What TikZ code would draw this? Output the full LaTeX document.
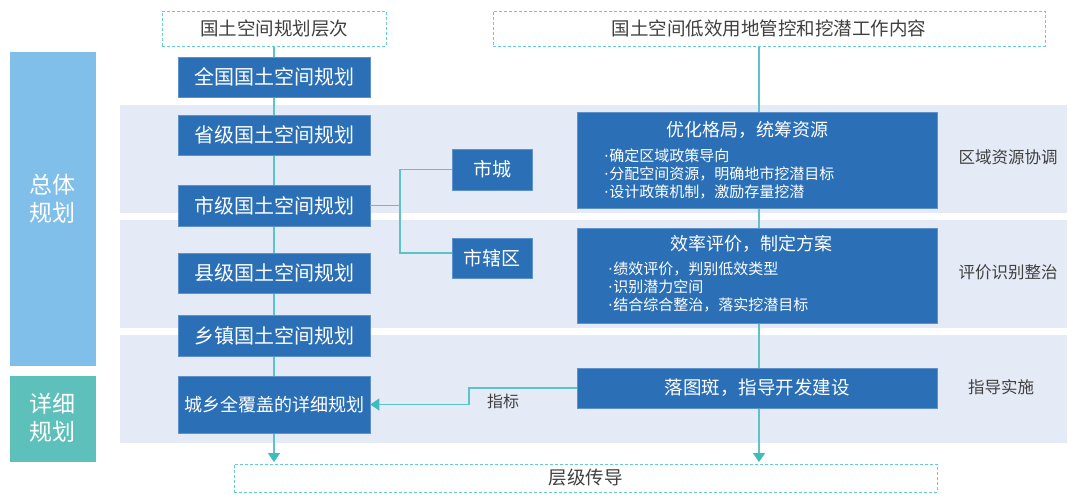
\documentclass[tikz,border=0pt]{standalone}
\usepackage{fontspec}
\setmainfont{Noto Sans CJK SC}
\newfontfamily\dotfont{DejaVu Sans}
\newcommand{\bdot}{{\dotfont ·}\hspace{0.5pt}}
\usetikzlibrary{arrows.meta}
\definecolor{boxblue}{RGB}{43,111,182}
\definecolor{boxedge}{RGB}{95,145,205}
\definecolor{sideblue}{RGB}{128,191,234}
\definecolor{sideteal}{RGB}{94,192,186}
\definecolor{bandcol}{RGB}{228,234,246}
\definecolor{linecol}{RGB}{92,196,196}
\definecolor{tipcol}{RGB}{62,188,188}
\definecolor{dashcol}{RGB}{100,205,205}
\definecolor{txtdark}{RGB}{64,64,64}
\pgfdeclarelayer{bands}
\pgfdeclarelayer{lines}
\pgfsetlayers{bands,lines,main}
\begin{document}
\begin{tikzpicture}[x=1pt,y=-1pt,
  bluebox/.style={fill=boxblue, draw=boxedge, line width=0.6pt, text=white, inner sep=0pt,
    font=\fontsize{20}{22}\selectfont},
  dashbox/.style={draw=dashcol, dashed, dash pattern=on 3pt off 2pt, line width=0.9pt, fill=white,
    inner sep=0pt, text=txtdark, font=\fontsize{18.5}{20}\selectfont},
  sidebox/.style={inner sep=0pt, minimum width=86pt},
  sidetext/.style={text=white, inner sep=0pt, align=center, font=\fontsize{23}{28}\selectfont},
  conn/.style={draw=linecol, line width=1.2pt},
  tip/.style={-{Triangle[width=12pt,length=9pt,fill=tipcol,color=tipcol]}},
  rtitle/.style={text=white, inner sep=0pt, font=\fontsize{18}{20}\selectfont},
  bullet/.style={text=white, inner sep=0pt, anchor=west, font=\fontsize{15}{16}\selectfont},
  sidelabel/.style={text=txtdark, inner sep=0pt, font=\fontsize{16.5}{18}\selectfont}
]
\useasboundingbox (0,0) rectangle (1080,499);

% bands
\begin{pgfonlayer}{bands}
\fill[bandcol] (120,105) rectangle (1067,213);
\fill[bandcol] (120,220) rectangle (1067,328);
\fill[bandcol] (120,335) rectangle (1067,443);
\end{pgfonlayer}

% side boxes
\node[sidebox, fill=sideblue, minimum height=314pt] (s1) at (53,209) {};
\node[sidetext] (s1t) at (53,199) {总体\\规划};
\node[sidebox, fill=sideteal, minimum height=86pt] (s2) at (53,419) {};
\node[sidetext] (s2t) at (53,418) {详细\\规划};

% header / footer boxes
\node[dashbox, minimum width=224pt, minimum height=35pt] (t1) at (274,28.5) {国土空间规划层次};
\node[dashbox, minimum width=552pt, minimum height=35pt] (t2) at (769,28.5) {国土空间低效用地管控和挖潜工作内容};
\node[dashbox, minimum width=703pt, minimum height=28pt] (bot) at (585.5,478) {层级传导};

% left column
\node[bluebox, minimum width=192pt, minimum height=40pt] (n1) at (274,77) {全国国土空间规划};
\node[bluebox, minimum width=192pt, minimum height=40pt] (n2) at (274,135) {省级国土空间规划};
\node[bluebox, minimum width=192pt, minimum height=41pt] (n3) at (274,205.5) {市级国土空间规划};
\node[bluebox, minimum width=192pt, minimum height=40pt] (n4) at (274,273) {县级国土空间规划};
\node[bluebox, minimum width=192pt, minimum height=41pt] (n5) at (274,335.5) {乡镇国土空间规划};
\node[bluebox, minimum width=192pt, minimum height=57pt, font=\fontsize{18}{20}\selectfont] (n6) at (274,404.5) {城乡全覆盖的详细规划};

% city boxes
\node[bluebox, minimum width=80pt, minimum height=41pt, font=\fontsize{19}{21}\selectfont] (c1) at (492,169.5) {市城};
\node[bluebox, minimum width=80pt, minimum height=40pt, font=\fontsize{19}{21}\selectfont] (c2) at (492,258) {市辖区};

% right column
\node[bluebox, minimum width=360pt, minimum height=96pt] (r1) at (757,160) {};
\node[rtitle] (r1t) at (747,130) {优化格局，统筹资源};
\node[bullet] (r1a) at (604,156) {\bdot 确定区域政策导向};
\node[bullet] (r1b) at (604,174) {\bdot 分配空间资源，明确地市挖潜目标};
\node[bullet] (r1c) at (604,192) {\bdot 设计政策机制，激励存量挖潜};

\node[bluebox, minimum width=360pt, minimum height=95pt] (r2) at (757,275.5) {};
\node[rtitle] (r2t) at (751,244) {效率评价，制定方案};
\node[bullet] (r2a) at (608,269) {\bdot 绩效评价，判别低效类型};
\node[bullet] (r2b) at (608,287) {\bdot 识别潜力空间};
\node[bullet] (r2c) at (608,305) {\bdot 结合综合整治，落实挖潜目标};

\node[bluebox, minimum width=360pt, minimum height=40pt, font=\fontsize{18.5}{20}\selectfont] (r3) at (757,388) {落图斑，指导开发建设};

% right labels
\node[sidelabel] (l1) at (1008,157) {区域资源协调};
\node[sidelabel] (l2) at (1008,272) {评价识别整治};
\node[sidelabel] (l3) at (1001,387) {指导实施};
\node[sidelabel, font=\fontsize{16}{18}\selectfont] (zb) at (503,401) {指标};

% connectors
\coordinate (rl) at (759,0);
\coordinate (j) at (400,205.5);
\coordinate (k) at (469,396);
\coordinate (c2w) at ([yshift=5pt]c2.west);
\begin{pgfonlayer}{lines}
\draw[conn, tip, shorten >=1.5pt] (t1.south) -- (t1.south |- bot.north);
\draw[conn, tip, shorten >=1.5pt] (rl |- t2.south) -- (rl |- bot.north);
\end{pgfonlayer}
\draw[conn] (n3.east) -- (j);
\draw[conn] (c1.west) -- (j |- c1.west) -- (j |- c2w) -- (c2w);
\draw[conn, tip] (r3.west) -- (r3.west -| k) -- (k |- n6.east) -- (n6.east);
\end{tikzpicture}
\end{document}
